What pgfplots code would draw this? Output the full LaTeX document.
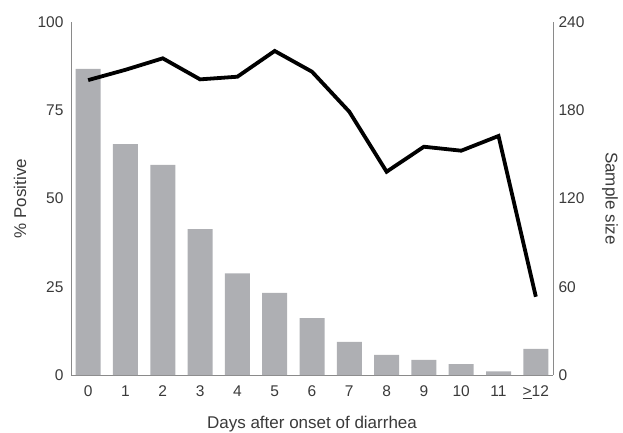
\documentclass[border=0pt]{standalone}
\usepackage{pgfplots}
\pgfplotsset{compat=1.18}
\usepackage{fontspec}
\setmainfont{Liberation Sans}
\definecolor{bargray}{HTML}{AEAFB3}
\definecolor{txt}{HTML}{3A3A3A}
\definecolor{axgray}{HTML}{8A8A8A}
\begin{document}
\begin{tikzpicture}
\useasboundingbox (-71pt,-58pt) rectangle (552pt,375pt);
\pgfplotsset{
  common/.style={
    scale only axis, width=482pt, height=353pt,
    xmin=-0.46, xmax=12.46,
    axis line style={axgray, line width=0.8pt},
    tick style={draw=none},
    every tick label/.append style={font=\fontsize{15.5}{18}\selectfont, text=txt},
    label style={font=\fontsize{17}{20}\selectfont, text=txt},
    /pgf/number format/assume math mode=true,
  }
}
\begin{axis}[common,
  axis y line*=left, axis x line*=bottom,
  ymin=0, ymax=100, ytick={0,25,50,75,100},
  xtick={0,...,12},
  xticklabels={0,1,2,3,4,5,6,7,8,9,10,11,\underline{>}12},
  xticklabel style={yshift=-7pt},
  yticklabel style={xshift=-4pt},
  xlabel={Days after onset of diarrhea},
  ylabel={\% Positive},
  xlabel style={at={(axis description cs:0.5,0)}, anchor=center, yshift=-49pt},
  ylabel style={at={(axis description cs:0,0.5)}, anchor=center, yshift=51pt},
]
\addplot[ybar, bar width=25pt, fill=bargray, draw=none] coordinates {
(0,86.7) (1,65.4) (2,59.5) (3,41.3) (4,28.8) (5,23.3) (6,16.1)
(7,9.4) (8,5.7) (9,4.3) (10,3.1) (11,1.0) (12,7.4)};
\end{axis}
\begin{axis}[common,
  axis y line*=right, axis x line=none,
  ymin=0, ymax=240, ytick={0,60,120,180,240},
  yticklabel style={xshift=2pt},
  ylabel={Sample size},
  ylabel style={at={(axis description cs:1,0.5)}, anchor=center, rotate=180, yshift=57pt},
]
\addplot[black, line width=3.8pt, line join=miter] coordinates {
(0,200.5) (1,207.5) (2,215.3) (3,201) (4,202.8) (5,220.3) (6,206.2)
(7,179) (8,138.2) (9,155.2) (10,152.5) (11,162.5) (12,53.2)};
\end{axis}
\end{tikzpicture}
\end{document}
